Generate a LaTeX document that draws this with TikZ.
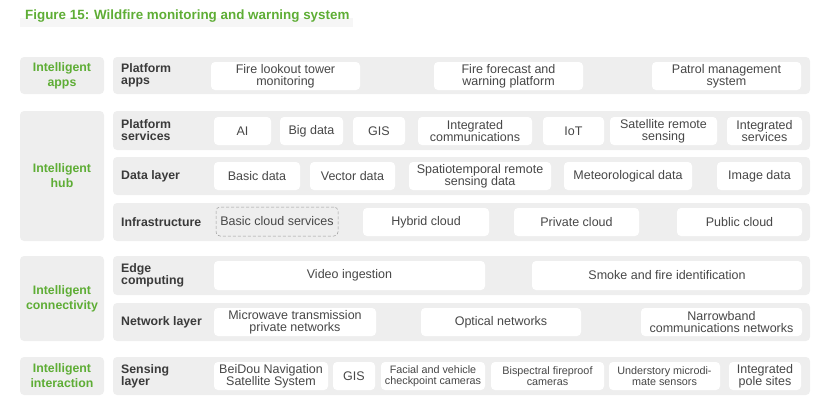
\documentclass[tikz,border=0pt]{standalone}
\usepackage{fontspec}
\setmainfont{Liberation Sans}
\usepackage{xcolor}
\usepackage{tikz}
\definecolor{figgreen}{HTML}{5EAD35}
\definecolor{panelgray}{HTML}{EEEEEE}
\definecolor{bandgray}{HTML}{F6F6F6}
\definecolor{labelgray}{HTML}{3A3A3A}
\definecolor{itemgray}{HTML}{474747}
\definecolor{dashgray}{HTML}{9A9A9A}

\begin{document}
\begin{tikzpicture}[x=1pt,y=-1pt,
        grp/.style={rectangle,rounded corners=4pt,fill=panelgray,inner sep=0pt,
                    minimum width=84,align=center,text=figgreen,
                    font=\bfseries\fontsize{12.3}{15}\selectfont},
        lay/.style={rectangle,rounded corners=4pt,fill=panelgray,inner sep=0pt,
                    minimum width=697},
        lbl/.style={anchor=west,align=left,text=labelgray,inner sep=0pt,
                    font=\bfseries\fontsize{12.3}{12}\selectfont},
        itm/.style={rectangle,rounded corners=4pt,fill=white,inner sep=0pt,
                    minimum height=28,align=center,text=itemgray,
                    font=\fontsize{12.5}{12}\selectfont}]
      \useasboundingbox (0,0) rectangle (820,400);
      \fill[bandgray] (20,18) rectangle (353,27);
      \node[anchor=west,inner sep=0pt,text=figgreen,
            font=\bfseries\fontsize{13.4}{13}\selectfont] (title) at(25,16)
            {Figure 15: Wildfire monitoring and warning system};

      \node[grp,minimum height=37] (apps) at(62,75.5){Intelligent\\apps};
      \node[lay,minimum height=37] (pa) at(461.5,75.5){};
      \node[lbl] (pal) at(121,75.5){Platform\\apps};
      \node[itm,minimum width=149] (a1) at(285.5,76){Fire lookout tower\\monitoring};
      \node[itm,minimum width=149] (a2) at(508.5,76){Fire forecast and\\warning platform};
      \node[itm,minimum width=149] (a3) at(726.5,76){Patrol management\\system};

      \node[grp,minimum height=130] (hub) at(62,176){Intelligent\\hub};
      \node[lay,minimum height=39] (ps) at(461.5,130.5){};
      \node[lay,minimum height=38] (dl) at(461.5,176){};
      \node[lay,minimum height=38] (inf) at(461.5,222){};
      \node[lbl] (psl) at(121,130.5){Platform\\services};
      \node[lbl] (dll) at(121,176){Data layer};
      \node[lbl] (infl) at(121,222){Infrastructure};
      \node[itm,minimum width=57] (s1) at(242.5,131){AI};
      \node[itm,minimum width=63] (s2) at(311.5,131){Big data};
      \node[itm,minimum width=52] (s3) at(379,131){GIS};
      \node[itm,minimum width=114] (s4) at(475,131){Integrated\\communications};
      \node[itm,minimum width=61] (s5) at(573.5,131){IoT};
      \node[itm,minimum width=107] (s6) at(663.5,131){Satellite remote\\sensing};
      \node[itm,minimum width=75] (s7) at(764.5,131){Integrated\\services};
      \node[itm,minimum width=86] (d1) at(257,176){Basic data};
      \node[itm,minimum width=85] (d2) at(352.5,176){Vector data};
      \node[itm,minimum width=142] (d3) at(480,176){Spatiotemporal remote\\sensing data};
      \node[itm,minimum width=128] (d4) at(628,176){Meteorological data};
      \node[itm,minimum width=85] (d5) at(759.5,176){Image data};
      \node[itm,minimum width=122,minimum height=29,fill=none,draw=dashgray,
            densely dashed,line width=0.5pt] (i1) at(277,221.5){Basic cloud services};
      \node[itm,minimum width=126] (i2) at(426,222){Hybrid cloud};
      \node[itm,minimum width=125] (i3) at(576.5,222){Private cloud};
      \node[itm,minimum width=125] (i4) at(739.5,222){Public cloud};

      \node[grp,minimum height=85] (conn) at(62,298.5){Intelligent\\connectivity};
      \node[lay,minimum height=39] (ec) at(461.5,275.5){};
      \node[lay,minimum height=38] (nl) at(461.5,322){};
      \node[lbl] (ecl) at(121,275.5){Edge\\computing};
      \node[lbl] (nll) at(121,322){Network layer};
      \node[itm,minimum width=271,minimum height=29] (e1) at(349.5,275.5){Video ingestion};
      \node[itm,minimum width=270,minimum height=29] (e2) at(667,275.5){Smoke and fire identification};
      \node[itm,minimum width=162] (n1) at(295,322){Microwave transmission\\private networks};
      \node[itm,minimum width=160] (n2) at(501,322){Optical networks};
      \node[itm,minimum width=161] (n3) at(721.5,322){Narrowband\\communications networks};

      \node[grp,minimum height=38] (inter) at(62,376){Intelligent\\interaction};
      \node[lay,minimum height=38] (sl) at(461.5,376){};
      \node[lbl] (sll) at(121,376){Sensing\\layer};
      \node[itm,minimum width=114] (g1) at(271,376){BeiDou Navigation\\Satellite System};
      \node[itm,minimum width=42] (g2) at(354,376){GIS};
      \node[itm,minimum width=104,font=\fontsize{10.8}{11.5}\selectfont] (g3) at(433,376)
            {Facial and vehicle\\checkpoint cameras};
      \node[itm,minimum width=113,font=\fontsize{10.8}{11.5}\selectfont] (g4) at(547.5,376)
            {Bispectral fireproof\\cameras};
      \node[itm,minimum width=111,font=\fontsize{10.8}{11.5}\selectfont] (g5) at(664.5,376)
            {Understory microdi-\\mate sensors};
      \node[itm,minimum width=72] (g6) at(765,376){Integrated\\pole sites};
    \end{tikzpicture}
\end{document}
